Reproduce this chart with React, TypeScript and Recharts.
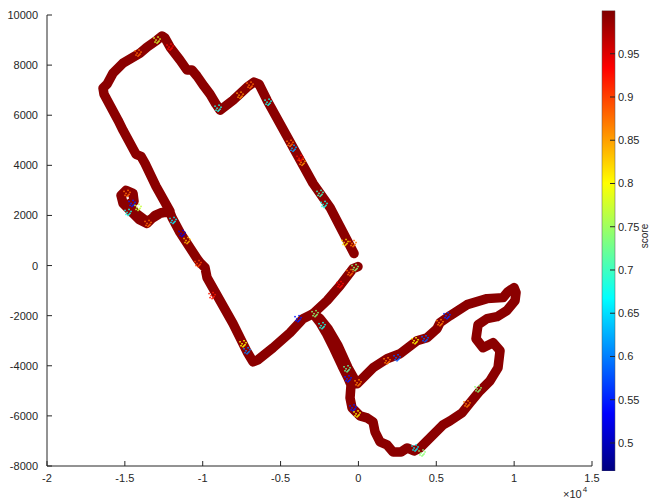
import React from 'react';
import { ComposedChart, Line, Scatter, XAxis, YAxis, BarChart, Bar } from 'recharts';

// main track: from near the origin, down-left, round the big loop, back to the upper diagonal
const outX = [
  -30, -347, -1182, -2016, -2916, -3558, -4393, -5484, -6448, -6769, -7154, -8053, -9723, -9851, -10172, -10365,
  -11457, -11971, -12099,
  -12613, -13062, -13576, -14090, -14604, -15117, -15246, -14925, -14475, -14411, -14796, -14347, -13576, -12741, -12099,
  -12998, -13705, -13961, -14283, -15117, -15439, -16338, -16402, -16145, -15760, -15117, -14026, -13576, -12934,
  -12613, -12420, -12099, -11457, -11007, -10686, -10365, -9916, -9530, -9145, -8888,
  -8053, -7154, -6705, -6383, -5870, -4200, -2916, -1824, -283,
];
const outY = [
  -40, -120, -800, -1400, -1920, -2120, -2680, -3280, -3760, -3840, -3440, -2320, -480, -80, 120, 280,
  1320, 1920, 2120,
  2120, 2000, 1680, 1840, 2160, 2480, 2800, 3000, 2880, 2560, 2440, 2120, 1760, 2080, 2160,
  3160, 4080, 4360, 4440, 5400, 5800, 6840, 7080, 7240, 7680, 8080, 8480, 8720, 9000,
  9160, 9080, 8720, 8200, 7800, 7800, 7560, 7160, 6840, 6440, 6200,
  6600, 7120, 7320, 7240, 6600, 4720, 3280, 2320, 480,
];

// second track: from the junction round the lower-right loop and back
const loopX = [
  -2916, -2466, -2081, -1567, -1053, -668, -475, -539, -411, 103, 552, 938, 1066, 1387, 1837, 2222, 2736, 3121,
  3571, 3956, 4341, 4791, 5433, 5883, 6653, 7167, 7809, 8451, 8965, 9094, 8644, 8002, 7552, 7681, 8259, 8901,
  9524, 10057, 10121, 9993, 9607, 9286, 8259, 6974, 5883, 5240, 5048, 4405, 3763, 2672, 1837, 938, -90,
  -668, -1310, -1952, -2466, -2916,
];
const loopY = [
  -1920, -2280, -2680, -3320, -4000, -4480, -4760, -5280, -5680, -6000, -6080, -6240, -6640, -7040, -7160, -7440, -7440, -7280,
  -7400, -7280, -7040, -6760, -6360, -6200, -5880, -5480, -5000, -4600, -4080, -3400, -3080, -3280, -2920, -2360, -2120, -2040,
  -1800, -1400, -1080, -880, -1040, -1280, -1320, -1560, -2000, -2280, -2520, -2880, -3000, -3520, -3720, -4080, -4720,
  -4080, -3200, -2520, -2120, -1920,
];

// low-score points along the track
const spotX = [
  -347, -5805, -4200, -4393, -3622, -2466, -2209, -12934, -14154, -6961, -7603, -9016, -14861, -14540, -14797,
  -14155, -13512, -11907, -11329, -11008, -10301, -7411, -7154, -3879, -2338, -2787, -732, -668, -347, -90, -26,
  1837, 2479, 3635, 4277, 3635, 4084, 5240, 5689, 7681, 6974, -218, -539, -860, -3750, -1182, -12099, -9400,
];
const spotY = [
  880, 6520, 4680, 4880, 4120, 2880, 2440, 9000, 8480, 7200, 6800, 6280, 2880, 2480, 2120,
  2320, 1680, 1800, 1280, 1000, 80, -3120, -3400, -2120, -2400, -1920, -4120, -4520, -5680, -5920, -4680,
  -3800, -3680, -3000, -2920, -7280, -7480, -2280, -2000, -4920, -5520, -80, -280, 920, 4280, -760, 8720, -1200,
];
const spotScore = [
  0.87, 0.68, 0.62, 0.88, 0.86, 0.7, 0.68, 0.78, 0.88, 0.88, 0.86, 0.68, 0.88, 0.55, 0.68,
  0.77, 0.88, 0.66, 0.52, 0.84, 0.9, 0.8, 0.6, 0.55, 0.68, 0.74, 0.72, 0.55, 0.55, 0.8, 0.87,
  0.87, 0.58, 0.8, 0.58, 0.66, 0.74, 0.87, 0.56, 0.74, 0.87, 0.74, 0.88, 0.82, 0.93, 0.93, 0.93, 0.92,
];

const xTicks = [-20000, -15000, -10000, -5000, 0, 5000, 10000, 15000];
const yTicks = [-8000, -6000, -4000, -2000, 0, 2000, 4000, 6000, 8000, 10000];
const cbTicks = [0.5, 0.55, 0.6, 0.65, 0.7, 0.75, 0.8, 0.85, 0.9, 0.95];

const C_MIN = 0.4676;
const C_MAX = 1.0;
const INK = '#262626';
const FONT = '"Liberation Sans", Arial, sans-serif';
const TRACK = '#8b0000';

const outData = outX.map((x, i) => ({ x, y: outY[i] }));
const loopData = loopX.map((x, i) => ({ x, y: loopY[i] }));
const spotData = spotX.map((x, i) => ({ x, y: spotY[i], score: spotScore[i] }));
const cbData = [{ name: 'score', v: C_MAX }];

const clamp = (v: number) => Math.min(1, Math.max(0, v));
const jet = (s: number) => {
  const t = clamp((s - C_MIN) / (C_MAX - C_MIN));
  const r = clamp(Math.min(4 * t - 1.5, -4 * t + 4.5));
  const g = clamp(Math.min(4 * t - 0.5, -4 * t + 3.5));
  const b = clamp(Math.min(4 * t + 0.5, -4 * t + 2.5));
  const h = (v: number) => Math.round(v * 255).toString(16).padStart(2, '0');
  return `#${h(r)}${h(g)}${h(b)}`;
};

const speckOffsets = [[-3, -2], [-1, 0], [1, -3], [2, 1], [-2, 2], [3, -1], [0, 3], [1, 2]];

const Speck = (props: any) => {
  const { cx, cy, payload } = props;
  if (cx == null || cy == null) return null;
  const c = jet(payload.score);
  return (
    <g>
      {speckOffsets.map(([dx, dy], i) => (
        <rect key={i} x={cx + dx - 0.75} y={cy + dy - 0.75} width={1.5} height={1.5} fill={c} />
      ))}
    </g>
  );
};

const XTick = (props: any) => {
  const { x, y, payload } = props;
  return (
    <g>
      <line x1={x} y1={y} x2={x} y2={y - 5} stroke={INK} />
      <text x={x} y={y + 16} textAnchor="middle" fontSize={11} fill={INK} fontFamily={FONT}>
        {String(payload.value / 10000)}
      </text>
    </g>
  );
};

const YTick = (props: any) => {
  const { x, y, payload } = props;
  return (
    <g>
      <line x1={x} y1={y} x2={x + 5} y2={y} stroke={INK} />
      <text x={x - 9} y={y + 4} textAnchor="end" fontSize={11} fill={INK} fontFamily={FONT}>
        {String(payload.value)}
      </text>
    </g>
  );
};

const CbTick = (props: any) => {
  const { x, y, payload } = props;
  return (
    <g>
      <line x1={x - 5} y1={y} x2={x} y2={y} stroke={INK} />
      <text x={x + 3} y={y + 4} textAnchor="start" fontSize={11} fill={INK} fontFamily={FONT}>
        {String(payload.value)}
      </text>
    </g>
  );
};

const ExpLabel = () => (
  <text x={563} y={498} fontSize={11} fill={INK} fontFamily={FONT}>
    ×10
    <tspan dx={1} dy={-6} fontSize={8}>4</tspan>
  </text>
);

const ScoreLabel = () => (
  <text
    x={648}
    y={236}
    transform="rotate(-90 648 236)"
    textAnchor="middle"
    fontSize={10}
    fill={INK}
    fontFamily={FONT}
  >
    score
  </text>
);

export default function App() {
  return (
    <div style={{ position: 'absolute', left: 0, top: 0, width: 653, height: 501, background: '#fff' }}>
      <div style={{ position: 'absolute', left: 0, top: 0 }}>
        <ComposedChart width={653} height={501} margin={{ top: 15, right: 61, bottom: 0, left: 0 }}>
          <XAxis
            type="number"
            dataKey="x"
            domain={[-20000, 15000]}
            ticks={xTicks}
            interval={0}
            allowDataOverflow
            height={35}
            tickLine={false}
            tickSize={0}
            tickMargin={0}
            axisLine={{ stroke: INK }}
            tick={<XTick />}
            label={{ content: <ExpLabel /> }}
          />
          <YAxis
            type="number"
            dataKey="y"
            domain={[-8000, 10000]}
            ticks={yTicks}
            interval={0}
            allowDataOverflow
            width={47}
            tickLine={false}
            tickSize={0}
            tickMargin={0}
            axisLine={{ stroke: INK }}
            tick={<YTick />}
          />
          <Line
            data={outData}
            dataKey="y"
            type="linear"
            stroke={TRACK}
            strokeWidth={9.5}
            strokeLinecap="round"
            strokeLinejoin="round"
            dot={false}
            activeDot={false}
            isAnimationActive={false}
          />
          <Line
            data={loopData}
            dataKey="y"
            type="linear"
            stroke={TRACK}
            strokeWidth={9.5}
            strokeLinecap="round"
            strokeLinejoin="round"
            dot={false}
            activeDot={false}
            isAnimationActive={false}
          />
          <Scatter data={spotData} dataKey="y" shape={<Speck />} isAnimationActive={false} />
        </ComposedChart>
      </div>
      <div style={{ position: 'absolute', left: 0, top: 0 }}>
        <BarChart
          width={653}
          height={501}
          data={cbData}
          margin={{ top: 10.5, right: 0, bottom: 30, left: 602 }}
          barCategoryGap={0}
        >
          <defs>
            <linearGradient id="jetGrad" x1="0" y1="1" x2="0" y2="0">
              <stop offset="0" stopColor="#00007f" />
              <stop offset="0.125" stopColor="#0000ff" />
              <stop offset="0.375" stopColor="#00ffff" />
              <stop offset="0.625" stopColor="#ffff00" />
              <stop offset="0.875" stopColor="#ff0000" />
              <stop offset="1" stopColor="#7f0000" />
            </linearGradient>
          </defs>
          <XAxis dataKey="name" hide />
          <YAxis
            orientation="right"
            type="number"
            domain={[C_MIN, C_MAX]}
            ticks={cbTicks}
            interval={0}
            allowDataOverflow
            width={38}
            axisLine={false}
            tickLine={false}
            tickSize={0}
            tickMargin={0}
            tick={<CbTick />}
            label={{ content: <ScoreLabel /> }}
          />
          <Bar dataKey="v" fill="url(#jetGrad)" stroke="#555" strokeWidth={0.5} isAnimationActive={false} />
        </BarChart>
      </div>
    </div>
  );
}
